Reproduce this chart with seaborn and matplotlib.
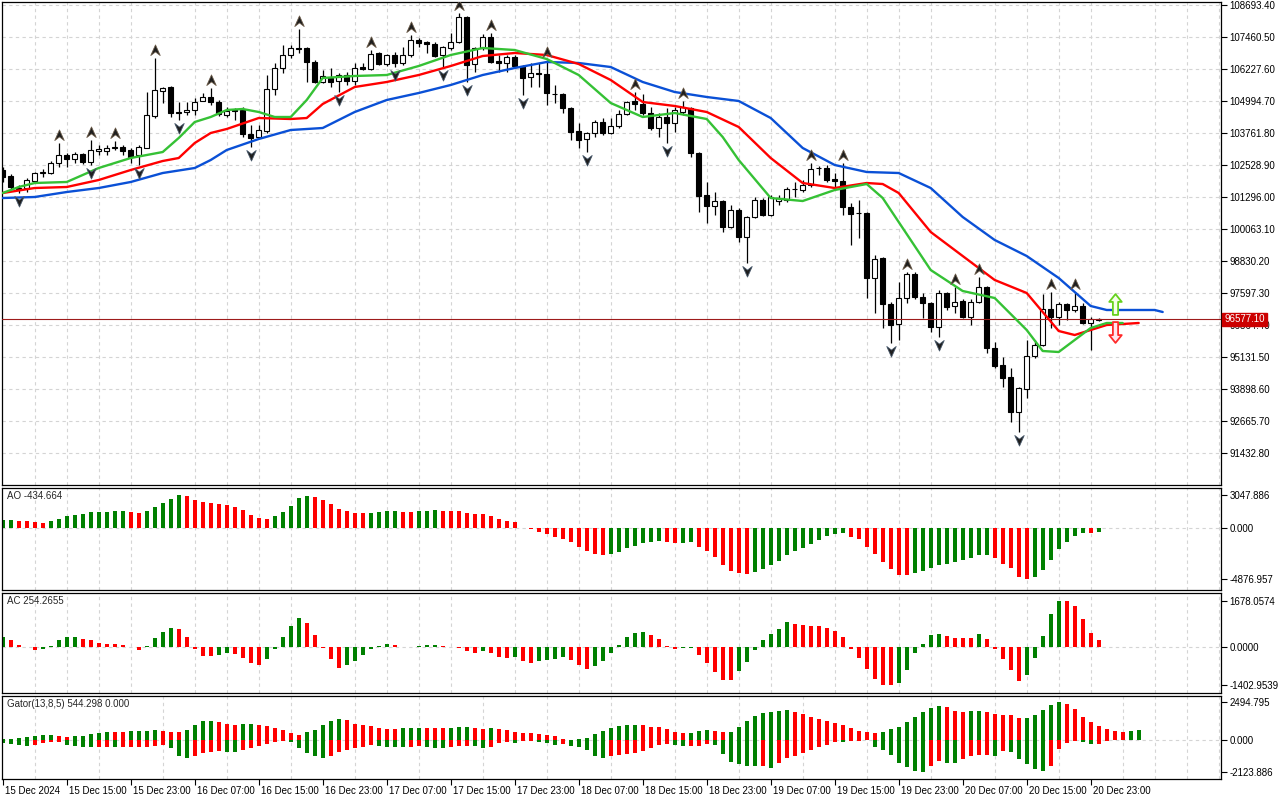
import numpy as np
import pandas as pd
import seaborn as sns
import matplotlib
matplotlib.use("Agg")
import matplotlib.pyplot as plt
from matplotlib.path import Path
from matplotlib.transforms import offset_copy, blended_transform_factory, ScaledTranslation


# H1 bars, 15 Dec 2024 07:00 .. 20 Dec 2024 23:00
open_ = [102336, 102105, 101642, 101642, 101912, 102220, 102220, 102606, 102914, 102760,
         102952, 102644, 103087, 103068, 103184, 103222, 103107, 102914, 103184, 104416,
         105380, 105534, 104571, 104571, 104648, 104994, 105148, 104956, 104455, 104648,
         104648, 103723, 103607, 103839, 105457, 106266, 106767, 107037, 107037, 106497,
         105726, 105881, 105765, 105996, 105765, 106304, 106227, 106844, 106420, 106767,
         106459, 106767, 107345, 107268, 107191, 106767, 107037, 107268, 108231, 106420,
         107037, 107460, 106536, 106459, 106690, 106343, 105919, 106073, 106035, 105264,
         105264, 104725, 103839, 103530, 103761, 104185, 103761, 104031, 104494, 104994,
         104879, 104532, 103954, 104378, 104147, 104571, 104725, 102991, 101373, 100949,
         101141, 100140, 100795, 99754, 100525, 101180, 100602, 101141, 101180, 101604,
         101565, 101758, 102413, 102413, 101989, 101912, 100910, 100679, 100679, 98175,
         98945, 97173, 96402, 97404, 98329, 97443, 97211, 96287, 97597, 97096,
         97288, 96672, 97250, 97828, 95478, 94823, 94360, 93012, 93898, 95169,
         95593, 96980, 96672, 97173, 96942, 97096, 96441, 96556]
high = [102452, 102182, 101758, 102028, 102259, 102374, 102683, 103376, 102991, 103029,
        102991, 103492, 103299, 103299, 103453, 103299, 103184, 103299, 105341, 106651,
        105534, 105572, 104956, 104956, 105110, 105303, 105495, 105033, 104763, 104725,
        104763, 104070, 104070, 105996, 106459, 107152, 107152, 107769, 107075, 106574,
        106189, 106266, 106073, 106112, 106459, 106459, 106960, 106882, 106805, 106882,
        107075, 107537, 107422, 107306, 107268, 107114, 107614, 108385, 108270, 107075,
        107576, 107614, 106767, 106767, 106767, 106381, 106459, 106459, 106574, 105611,
        105303, 104763, 104147, 103800, 104262, 104339, 104339, 104648, 104994, 105341,
        105264, 104763, 104532, 104725, 104763, 104994, 104763, 103029, 101873, 101488,
        101180, 100987, 100872, 100563, 101296, 101257, 101373, 101373, 101681, 101873,
        101951, 102606, 102490, 102528, 102220, 102606, 101064, 101180, 100718, 99061,
        98984, 97250, 98021, 98406, 98406, 97597, 97250, 97712, 97635, 97828,
        97366, 97366, 98213, 97866, 95709, 95131, 94707, 93975, 95786, 95786,
        97558, 97635, 97250, 97211, 97635, 97211, 96672, 96633]
low = [101874, 101604, 101450, 101488, 101873, 102066, 102182, 102451, 102451, 102606,
       102567, 102528, 102914, 102914, 103107, 102914, 102606, 102528, 103184, 104339,
       104917, 104378, 104262, 104455, 104455, 104994, 104840, 104416, 104378, 104262,
       103607, 103222, 103569, 103761, 105226, 106073, 106651, 106844, 105726, 105688,
       105688, 105534, 105341, 105611, 105611, 106189, 106189, 106381, 106343, 106304,
       106381, 106690, 107075, 106844, 106690, 106304, 106960, 107229, 105726, 106112,
       106960, 106459, 106112, 106112, 106304, 105226, 105534, 105534, 104840, 104917,
       104532, 103492, 103184, 103029, 103607, 103684, 103723, 103954, 104455, 104648,
       104455, 103877, 103607, 103376, 103800, 104455, 102837, 100718, 100294, 100602,
       99947, 100101, 99562, 98753, 100486, 100563, 100563, 100987, 101103, 101296,
       101488, 101681, 102143, 101873, 101642, 100602, 99446, 99716, 97404, 96826,
       96248, 95670, 95786, 97211, 97366, 96633, 96094, 95901, 96942, 96826,
       96633, 96364, 97211, 95285, 94707, 93975, 92626, 92241, 93551, 95092,
       95555, 96248, 96364, 96556, 96865, 96402, 95401, 96518]
close = [102066, 101681, 101604, 101951, 102220, 102259, 102606, 102914, 102760, 102952,
         102644, 103107, 103126, 103184, 103222, 103068, 102837, 103222, 104455, 105418,
         105495, 104532, 104551, 104648, 104956, 105148, 104956, 104494, 104609, 104628,
         103723, 103569, 103877, 105457, 106266, 106767, 107037, 107017, 106497, 105726,
         105958, 105726, 105996, 105765, 106266, 106227, 106805, 106420, 106767, 106459,
         106767, 107345, 107229, 107191, 106728, 107075, 107268, 108231, 106381, 107037,
         107460, 106497, 106459, 106690, 106343, 105881, 106073, 106054, 105303, 105245,
         104725, 103800, 103492, 103761, 104185, 103761, 104031, 104494, 104956, 104879,
         104532, 103954, 104378, 104147, 104648, 104763, 102991, 101334, 100949, 101141,
         100140, 100795, 99754, 100525, 101180, 100602, 101296, 101257, 101604, 101585,
         101758, 102374, 102394, 101951, 101912, 100910, 100641, 100660, 98175, 98907,
         97173, 96364, 97404, 98329, 97443, 97211, 96287, 97597, 97057, 97250,
         96672, 97250, 97828, 95478, 94785, 94322, 93012, 93936, 95169, 95593,
         96980, 96672, 97173, 96942, 97096, 96441, 96595, 96577.1]
last_price = 96577.10

fractal_up = [7, 11, 14, 19, 26, 37, 46, 51, 57, 61, 68, 79, 85, 101, 105, 113, 119, 122, 131, 134]
fractal_down = [2, 11, 17, 22, 31, 42, 49, 55, 58, 65, 73, 83, 93, 111, 117, 127]

# alligator lines (already shifted forward)
jaw_bar = [0, 4, 8, 12, 16, 20, 24, 26, 28, 32, 36, 40, 44, 48, 52, 56, 60, 64, 68, 72,
           76, 80, 84, 88, 92, 96, 100, 104, 108, 112, 116, 120, 124, 128, 132, 136, 138, 144, 145]
jaw = [101257, 101296, 101488, 101642, 101874, 102220, 102413, 102721, 103106, 103530,
       103877, 103954, 104571, 105033, 105303, 105611, 105996, 106266, 106497, 106459,
       106304, 105727, 105341, 105149, 104995, 104339, 103184, 102529, 102259, 102220,
       101642, 100525, 99639, 99022, 98175, 97096, 96942, 96942, 96865]
teeth_bar = [0, 4, 8, 12, 16, 20, 22, 24, 26, 28, 32, 36, 38, 40, 44, 48, 52, 56, 60, 64,
             68, 72, 76, 80, 84, 88, 92, 96, 100, 104, 108, 110, 112, 116, 120, 124, 128, 132,
             134, 136, 138, 142]
teeth = [101450, 101642, 101681, 101951, 102336, 102683, 102798, 103376, 103762, 103916,
         104339, 104301, 104339, 104879, 105534, 105727, 105996, 106343, 106728, 106844,
         106767, 106420, 105804, 104956, 104802, 104571, 103993, 102798, 101835, 101642,
         101835, 101796, 101450, 99947, 99022, 98098, 97597, 96133, 95978, 96171,
         96364, 96441]
lips_bar = [0, 2, 4, 8, 12, 16, 20, 22, 24, 26, 28, 30, 32, 34, 36, 38, 40, 44, 48, 52,
            56, 60, 64, 68, 72, 76, 80, 84, 88, 90, 92, 96, 100, 104, 108, 110, 112, 116,
            120, 124, 128, 130, 132, 134, 136, 138, 140]
lips = [101450, 101681, 101835, 101874, 102413, 102798, 103029, 103569, 104185, 104378,
        104648, 104686, 104571, 104378, 104378, 105033, 105881, 105958, 105996, 106343,
        106767, 107037, 106959, 106613, 105996, 104917, 104378, 104532, 104301, 103607,
        102721, 101257, 101141, 101565, 101796, 101257, 100332, 98483, 97674, 97404,
        96171, 95362, 95323, 95786, 96248, 96441, 96441]

signal_bar = 139
signal_up = 97190
signal_down = 96075

ao = [675, 683, 579, 571, 482, 385, 579, 772, 1061, 1157,
      1253, 1447, 1456, 1467, 1543, 1557, 1447, 1350, 1543, 1929,
      2314, 2700, 3047.886, 2990, 2604, 2411, 2274, 2184, 2106, 1929,
      1640, 1157, 868, 772, 1061, 1447, 2025, 2797, 2985, 2893,
      2604, 2218, 1736, 1543, 1350, 1333, 1350, 1447, 1543, 1557,
      1447, 1434, 1543, 1557, 1640, 1568, 1557, 1543, 1350, 1253,
      1232, 1061, 772, 579, 482, -32, -181, -394, -606, -908,
      -1060, -1332, -1786, -2241, -2453, -2604, -2513, -2332, -1969, -1695,
      -1423, -1332, -1302, -1372, -1445, -1424, -1393, -1786, -2210, -2785,
      -3512, -4058, -4239, -4330, -4148, -3906, -3512, -3149, -2544, -2241,
      -1877, -1514, -1181, -818, -606, -515, -878, -1120, -1786, -2513,
      -3240, -3876, -4420, -4442, -4239, -4058, -3755, -3482, -3421, -3240,
      -3058, -2876, -2604, -2574, -2876, -3391, -3785, -4602, -4876.957, -4602,
      -3967, -3058, -2059, -1332, -787, -484, -550, -434.664]
ac = [353, 256, 73, -6, -114, -89, 49, 256, 365, 371,
      292, 256, 158, 109, 104, 85, 8, -114, 36, 327,
      548, 694, 657, 365, -64, -317, -343, -292, -216, -267,
      -406, -584, -673, -444, -64, 365, 767, 1059, 876, 450,
      -39, -444, -749, -673, -520, -292, -64, 36, 109, 73,
      11, 5, 44, 73, 76, 36, -6, -39, -140, -216,
      -140, -216, -368, -406, -368, -520, -596, -520, -482, -444,
      -368, -482, -673, -787, -711, -520, -216, 73, 365, 511,
      548, 438, 292, 24, -64, -39, -25, -292, -596, -901,
      -1205, -1216, -876, -558, -114, 256, 487, 657, 913, 840,
      785, 774, 763, 694, 584, 365, -64, -406, -787, -1168,
      -1396, -1402.9539, -1320, -825, -216, 109, 438, 487, 402, 329,
      322, 316, 487, 292, -76, -444, -825, -1244, -1016, -406,
      402, 1206, 1678.0574, 1668, 1498, 1022, 511, 254.2655]
gator_up = [44, 88, 132, 198, 286, 330, 335, 264, 198, 264,
            286, 418, 462, 506, 500, 495, 594, 600, 606, 660,
            594, 528, 520, 660, 990, 1254, 1260, 1188, 1056, 990,
            1056, 1060, 990, 924, 792, 660, 462, 330, 528, 660,
            990, 1254, 1386, 1320, 1056, 990, 924, 792, 748, 740,
            792, 795, 800, 790, 780, 775, 814, 858, 862, 792,
            748, 792, 726, 660, 550, 484, 462, 396, 330, 264,
            66, 22, 66, 132, 396, 594, 792, 924, 990, 995,
            980, 880, 870, 726, 528, 462, 470, 594, 660, 594,
            520, 540, 858, 1254, 1584, 1782, 1848, 1914, 1980, 1848,
            1716, 1518, 1386, 1254, 1122, 990, 792, 594, 528, 462,
            528, 726, 858, 1188, 1518, 1848, 2112, 2244, 2178, 1914,
            1848, 1914, 1936, 1848, 1716, 1650, 1640, 1452, 1460, 1650,
            1980, 2310, 2494.795, 2376, 2046, 1518, 1188, 924, 726, 594,
            544.298, 594, 660]
gator_down = [-198, -242, -308, -374, -308, -198, -132, -125, -308, -374,
              -484, -490, -480, -475, -484, -478, -470, -465, -460, -374,
              -308, -550, -1078, -1210, -1078, -880, -792, -726, -792, -800,
              -660, -550, -374, -242, -132, -88, -100, -550, -880, -1078,
              -1210, -1078, -792, -660, -550, -462, -352, -418, -462, -484,
              -490, -462, -418, -462, -550, -555, -462, -418, -374, -418,
              -550, -462, -198, -132, -198, -88, -80, -132, -198, -308,
              -242, -374, -484, -682, -1078, -1210, -1078, -990, -946, -880,
              -726, -528, -330, -264, -308, -418, -396, -374, -242, -308,
              -902, -1430, -1562, -1694, -1710, -1690, -1826, -1496, -1166, -1034,
              -836, -638, -440, -308, -110, -120, -44, -40, -20, -440,
              -638, -968, -1496, -1760, -2024, -2123.886, -1694, -1364, -1496, -1510,
              -1232, -1034, -968, -960, -1034, -704, -770, -1232, -1562, -1892,
              -2024, -1694, -572, -176, -44, -110, -242, -240, -44, -20,
              -10, -4, 0]

price_ticks = [108693.40, 107460.50, 106227.60, 104994.70, 103761.80, 102528.90, 101296.00,
               100063.10, 98830.20, 97597.30, 96364.40, 95131.50, 93898.60, 92665.70, 91432.80]
ao_ticks = [3047.886, 0.0, -4876.957]
ac_ticks = [1678.0574, 0.0, -1402.9539]
gator_ticks = [2494.795, 0.0, -2123.886]

time_ticks = list(range(0, 137, 8))
time_labels = ["15 Dec 2024", "15 Dec 15:00", "15 Dec 23:00", "16 Dec 07:00", "16 Dec 15:00",
               "16 Dec 23:00", "17 Dec 07:00", "17 Dec 15:00", "17 Dec 23:00", "18 Dec 07:00",
               "18 Dec 15:00", "18 Dec 23:00", "19 Dec 07:00", "19 Dec 15:00", "19 Dec 23:00",
               "20 Dec 07:00", "20 Dec 15:00", "20 Dec 23:00"]

GREEN = "#008000"
RED = "#ff0000"
GRID = "#d4d4d4"
X_LEFT, X_RIGHT = -0.09, 152.29


def panel_box(top, bottom):
    return [2 / 1280, 1 - bottom / 800, (1221 - 2) / 1280, (bottom - top) / 800]


def style_panel(ax, ticks, fmt, ylim):
    ax.set_xlim(X_LEFT, X_RIGHT)
    ax.set_ylim(*ylim)
    ax.set_xlabel("")
    ax.set_ylabel("")
    ax.yaxis.tick_right()
    ax.set_yticks(ticks)
    ax.set_yticklabels([fmt % t for t in ticks])
    ax.tick_params(axis="y", direction="out", length=4, width=0.8, pad=2,
                   labelsize=7, colors="black")
    ax.set_xticks(np.arange(4, 153, 4), minor=True)
    ax.tick_params(axis="x", which="both", bottom=False, labelbottom=False)
    ax.grid(False)
    ax.grid(True, which="minor", axis="x", color=GRID, ls=(0, (3, 3)), lw=0.8)
    ax.set_axisbelow(True)
    for s in ax.spines.values():
        s.set_visible(True)
        s.set_color("black")
        s.set_linewidth(0.9)


def histogram(ax, values, by_size=False):
    df = pd.DataFrame({"bar": np.arange(len(values)), "value": values})
    level = df["value"].abs() if by_size else df["value"]
    df["dir"] = np.where(level.diff().fillna(1) >= 0, "up", "down")
    sns.barplot(data=df, x="bar", y="value", hue="dir",
                palette={"up": GREEN, "down": RED}, native_scale=True, dodge=False,
                width=0.5, errorbar=None, legend=False, saturation=1,
                linewidth=0, ax=ax)


def main():
    sns.set_theme(style="white")
    plt.rcParams["font.family"] = ["Liberation Sans", "DejaVu Sans"]

    fig = plt.figure(figsize=(12.8, 8.0), dpi=100)
    ax = fig.add_axes(panel_box(2, 485))
    ax_ao = fig.add_axes(panel_box(488, 590))
    ax_ac = fig.add_axes(panel_box(593, 693))
    ax_g = fig.add_axes(panel_box(696, 779))

    # candles
    bars = pd.DataFrame({"open": open_, "high": high, "low": low, "close": close})
    bars["bar"] = np.arange(len(bars))
    bull = bars["close"] >= bars["open"]
    ax.vlines(bars["bar"], bars["low"], bars["high"], color="black", lw=0.9, zorder=2)
    ax.bar(bars["bar"], (bars["close"] - bars["open"]).abs(),
           bottom=bars[["open", "close"]].min(axis=1), width=0.62,
           color=np.where(bull, "white", "black"), edgecolor="black", linewidth=0.8, zorder=3)

    # alligator
    sns.lineplot(x=jaw_bar, y=jaw, color="#0a50d6", lw=1.7, ax=ax, zorder=4)
    sns.lineplot(x=teeth_bar, y=teeth, color="#ff0000", lw=1.7, ax=ax, zorder=4)
    sns.lineplot(x=lips_bar, y=lips, color="#35c135", lw=1.7, ax=ax, zorder=4)

    # fractals
    arrow_up = Path([(0, 1), (0.85, -0.9), (0, -0.25), (-0.85, -0.9), (0, 1)],
                    [Path.MOVETO, Path.LINETO, Path.LINETO, Path.LINETO, Path.CLOSEPOLY])
    arrow_dn = Path([(0, -1), (0.85, 0.9), (0, 0.25), (-0.85, 0.9), (0, -1)],
                    [Path.MOVETO, Path.LINETO, Path.LINETO, Path.LINETO, Path.CLOSEPOLY])
    above = offset_copy(ax.transData, fig=fig, x=0, y=8, units="dots")
    below = offset_copy(ax.transData, fig=fig, x=0, y=-8, units="dots")
    ax.plot(fractal_up, bars.loc[fractal_up, "high"], ls="none", marker=arrow_up,
            ms=8, color="#1e1e1e", mec="#6a5a48", mew=0.6, transform=above, zorder=5)
    ax.plot(fractal_down, bars.loc[fractal_down, "low"], ls="none", marker=arrow_dn,
            ms=8, color="#1e1e1e", mec="#48586a", mew=0.6, transform=below, zorder=5)

    # signal arrows at the right end
    big_up = Path([(0, 1), (0.6, 0.25), (0.25, 0.25), (0.25, -1), (-0.25, -1),
                   (-0.25, 0.25), (-0.6, 0.25), (0, 1)],
                  [Path.MOVETO] + [Path.LINETO] * 6 + [Path.CLOSEPOLY])
    big_dn = Path([(0, -1), (0.6, -0.25), (0.25, -0.25), (0.25, 1), (-0.25, 1),
                   (-0.25, -0.25), (-0.6, -0.25), (0, -1)],
                  [Path.MOVETO] + [Path.LINETO] * 6 + [Path.CLOSEPOLY])
    ax.plot([signal_bar], [signal_up], marker=big_up, ms=15, mfc="#f4ffe8",
            mec="#66d11e", mew=1.3, ls="none", zorder=6)
    ax.plot([signal_bar], [signal_down], marker=big_dn, ms=15, mfc="#ffe6ee",
            mec="#ff2a2a", mew=1.3, ls="none", zorder=6)

    # current price
    ax.axhline(last_price, color="#9e1b1b", lw=0.8, zorder=3)

    style_panel(ax, price_ticks, "%.2f", (90199, 108809))
    ax.grid(True, which="major", axis="y", color=GRID, ls=(0, (3, 3)), lw=0.8)
    tr = blended_transform_factory(ax.transAxes, ax.transData)
    ax.text(1.0028, last_price, "%.2f" % last_price, transform=tr, fontsize=7,
            color="white", va="center", ha="left", zorder=10, clip_on=False,
            bbox=dict(boxstyle="square,pad=0.2", fc="#cc0000", ec="#cc0000"))

    # AO
    histogram(ax_ao, ao)
    style_panel(ax_ao, ao_ticks, "%.3f", (-5862, 3705))
    ax_ao.axhline(0, color=GRID, ls=(0, (3, 3)), lw=0.8, zorder=0)
    ax_ao.text(0.004, 0.92, "AO %.3f" % ao[-1], transform=ax_ao.transAxes,
               fontsize=7, va="center")

    # AC
    histogram(ax_ac, ac)
    style_panel(ax_ac, ac_ticks, "%.4f", (-1679, 1971))
    ax_ac.axhline(0, color=GRID, ls=(0, (3, 3)), lw=0.8, zorder=0)
    ax_ac.text(0.004, 0.92, "AC %.4f" % ac[-1], transform=ax_ac.transAxes,
               fontsize=7, va="center")

    # Gator
    histogram(ax_g, gator_up)
    histogram(ax_g, gator_down, by_size=True)
    style_panel(ax_g, gator_ticks, "%.3f", (-2560, 2889))
    ax_g.axhline(0, color=GRID, ls=(0, (3, 3)), lw=0.8, zorder=0)
    ax_g.text(0.004, 0.90, "Gator(13,8,5) 544.298 0.000", transform=ax_g.transAxes,
              fontsize=7, va="center")

    ax_g.set_xticks(time_ticks)
    ax_g.set_xticklabels(time_labels)
    ax_g.tick_params(axis="x", which="major", bottom=True, labelbottom=True,
                     direction="out", length=4, width=0.8, pad=1, labelsize=7,
                     colors="black")
    shift = ScaledTranslation(2 / 100, 0, fig.dpi_scale_trans)
    for lbl in ax_g.get_xticklabels():
        lbl.set_ha("left")
        lbl.set_transform(lbl.get_transform() + shift)

    fig.savefig("out.png", dpi=100)


if __name__ == "__main__":
    main()
